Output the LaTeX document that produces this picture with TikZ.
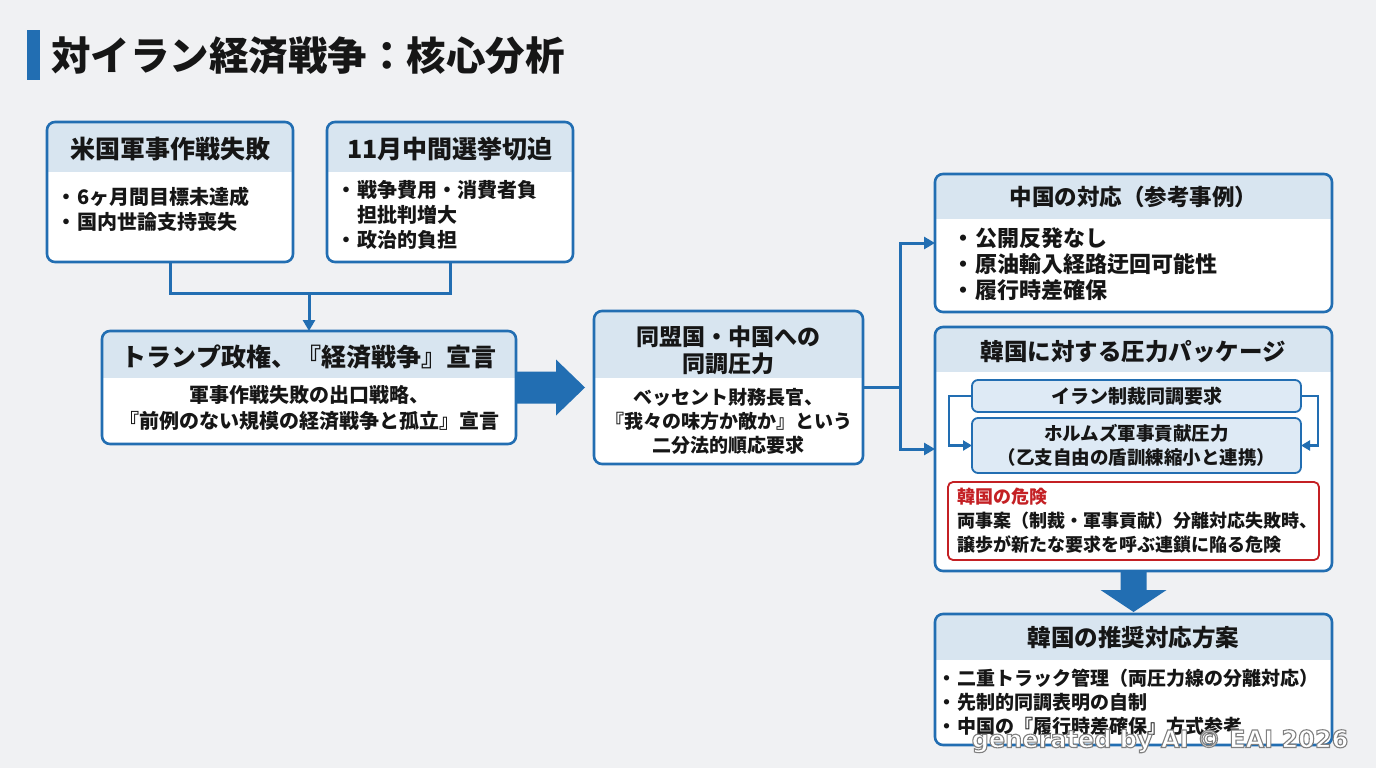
\documentclass[tikz,border=0pt]{standalone}
\usepackage{fontspec}
\setmainfont{Noto Sans CJK JP}
\newfontfamily\wmfont{DejaVu Sans}
\usetikzlibrary{arrows.meta,calc}
\definecolor{bgc}{RGB}{240,241,243}
\definecolor{blue1}{RGB}{34,110,178}
\definecolor{headc}{RGB}{216,229,240}
\definecolor{subc}{RGB}{222,234,245}
\definecolor{txt}{RGB}{22,22,22}
\definecolor{redc}{RGB}{196,32,36}
\tikzset{
  panel/.style={fill=white, rounded corners=8pt, inner sep=0pt, outer sep=0pt},
  panelborder/.style={draw=blue1, line width=2.6pt},
  headfill/.style={fill=headc},
  htext/.style={font=\fontsize{23.5}{28}\selectfont\bfseries, text=txt, align=center, inner sep=0pt},
  btext/.style={font=\fontsize{20}{25}\selectfont\bfseries, text=txt, align=left, inner sep=0pt, anchor=west},
  ctext/.style={font=\fontsize{20}{26}\selectfont\bfseries, text=txt, align=center, inner sep=0pt},
  conn/.style={draw=blue1, line width=3pt},
  arrowc/.style={conn, -{Triangle[length=11pt,width=12pt]}},
  thinarrow/.style={draw=blue1, line width=2.4pt, -{Triangle[length=9pt,width=10pt]}},
  subbox/.style={draw=blue1, line width=1.8pt, fill=subc, rounded corners=6pt, inner sep=0pt, outer sep=0pt},
  bigarrow/.style={fill=blue1},
  wmstyle/.style={font=\wmfont\fontsize{24}{26}\selectfont\bfseries, inner sep=0pt},
}
\newcommand\panelhead[2]{%
  \begin{scope}
    \clip[rounded corners=8pt] (#1.north west) rectangle (#1.south east);
    \fill[headfill] (#1.north west) rectangle ([yshift=-#2pt]#1.north east);
  \end{scope}
  \draw[panelborder, rounded corners=8pt] (#1.north west) rectangle (#1.south east);}
\newcommand\bul{・\hspace{1pt}}
\newcommand\bulph{\phantom{・}\hspace{1pt}}
\newcommand\outlined[1]{\special{pdf:literal direct 2 Tr 1.1 w 0.5 0.5 0.5 RG 1 1 1 rg}#1\special{pdf:literal direct 0 Tr}}
\begin{document}
\begin{tikzpicture}[x=1pt,y=-1pt]
\fill[bgc] (0,0) rectangle (1376,768);
\useasboundingbox (0,0) rectangle (1376,768);

% title
\fill[blue1] (27,30) rectangle (40,80);
\node[anchor=west, font=\fontsize{39.5}{42}\selectfont\bfseries, text=txt, inner sep=0pt] (title) at (51,56) {対イラン経済戦争：核心分析};

% Box A
\node[panel, minimum width=246pt, minimum height=140pt] (A) at (170,192) {};
\panelhead{A}{50}
\node[htext, font=\fontsize{25}{28}\selectfont\bfseries] (Ah) at (170,149) {米国軍事作戦失敗};
\node[btext] (Ab) at (56,209.5) {\bul 6ヶ月間目標未達成\\\bul 国内世論支持喪失};

% Box B
\node[panel, minimum width=246pt, minimum height=140pt] (B) at (450,192) {};
\panelhead{B}{50}
\node[htext, font=\fontsize{25}{28}\selectfont\bfseries] (Bh) at (450,149) {11月中間選挙切迫};
\node[btext] (Bb) at (336,215) {\bul 戦争費用・消費者負\\\bulph 担批判増大\\\bul 政治的負担};

% Box C
\node[panel, minimum width=414pt, minimum height=113pt] (C) at (309,387.5) {};
\panelhead{C}{47}
\node[htext, font=\fontsize{25}{28}\selectfont\bfseries] (Ch) at (309,357) {トランプ政権、『経済戦争』宣言};
\node[ctext] (Cb) at (309,408) {軍事作戦失敗の出口戦略、\\『前例のない規模の経済戦争と孤立』宣言};

% connectors A,B -> C
\coordinate (jm) at (309,293);
\draw[conn] (A.south) |- (jm);
\draw[conn] (B.south) |- (jm);
\draw[arrowc] (jm) -- (C.north);

% Box D
\node[panel, minimum width=269pt, minimum height=153pt] (D) at (728.5,387.5) {};
\panelhead{D}{67}
\node[htext, font=\fontsize{23}{27}\selectfont\bfseries] (Dh) at (728.5,350.5) {同盟国・中国への\\同調圧力};
\node[ctext, font=\fontsize{19}{24}\selectfont\bfseries] (Db) at (728.5,421) {ベッセント財務長官、\\『我々の味方か敵か』という\\二分法的順応要求};

% big arrow C -> D
\fill[bigarrow] ($(C.east)+(0,-16)$) -- ($(C.east)+(40,-16)$) -- ($(C.east)+(40,-28)$)
  -- ($(C.east)+(69,0)$) -- ($(C.east)+(40,28)$) -- ($(C.east)+(40,16)$) -- ($(C.east)+(0,16)$) -- cycle;

% Box E
\node[panel, minimum width=397pt, minimum height=138pt] (E) at (1133.5,243) {};
\panelhead{E}{45}
\node[htext, font=\fontsize{22.5}{26}\selectfont\bfseries] (Eh) at (1133.5,197) {中国の対応（参考事例）};
\node[btext, font=\fontsize{22}{26}\selectfont\bfseries] (Eb) at (952,264) {\bul 公開反発なし\\\bul 原油輸入経路迂回可能性\\\bul 履行時差確保};

% Box F
\node[panel, minimum width=397pt, minimum height=244pt] (F) at (1133.5,449) {};
\panelhead{F}{45}
\node[htext] (Fh) at (1133.5,352) {韓国に対する圧力パッケージ};
\node[subbox, minimum width=329pt, minimum height=32pt] (S1) at (1136.5,396) {};
\node[ctext, font=\fontsize{19}{24}\selectfont\bfseries] (S1t) at (S1) {イラン制裁同調要求};
\node[subbox, minimum width=329pt, minimum height=55pt] (S2) at (1136.5,445.5) {};
\node[ctext, font=\fontsize{18.5}{24}\selectfont\bfseries] (S2t) at (S2) {ホルムズ軍事貢献圧力\\（乙支自由の盾訓練縮小と連携）};
\draw[thinarrow] (S1.west) -- ++(-23,0) |- (S2.west);
\draw[thinarrow] (S1.east) -- ++(17,0) |- (S2.east);
\node[draw=redc, line width=1.8pt, fill=white, rounded corners=5pt, minimum width=371pt, minimum height=78pt, inner sep=0pt, outer sep=0pt] (R) at (1133.5,521) {};
\node[btext, font=\fontsize{18}{24}\selectfont\bfseries] (Rt) at (957,521) {\textcolor{redc}{韓国の危険}\\両事案（制裁・軍事貢献）分離対応失敗時、\\譲歩が新たな要求を呼ぶ連鎖に陥る危険};

% D -> E, F
\coordinate (dj) at (900,387.5);
\draw[conn] (D.east) -- (dj);
\draw[arrowc] (dj) |- (E.west);
\draw[arrowc] (dj) |- (F.west);

% Box G
\node[panel, minimum width=397pt, minimum height=131pt] (G) at (1133.5,679.5) {};
\panelhead{G}{46}
\node[htext] (Gh) at (1133.5,638) {韓国の推奨対応方案};
\node[btext, font=\fontsize{19}{24}\selectfont\bfseries] (Gb) at (937,702) {\bul 二重トラック管理（両圧力線の分離対応）\\\bul 先制的同調表明の自制\\\bul 中国の『履行時差確保』方式参考};

% big arrow F -> G
\fill[bigarrow] ($(F.south)+(-13,0)$) -- ($(F.south)+(13,0)$) -- ($(F.south)+(13,19)$) -- ($(F.south)+(33,19)$)
  -- ($(F.south)+(0,41)$) -- ($(F.south)+(-33,19)$) -- ($(F.south)+(-13,19)$) -- cycle;

% watermark
\node[wmstyle, text=white] (wm) at (1160,741) {\outlined{generated by AI © EAI 2026}};
\end{tikzpicture}
\end{document}
